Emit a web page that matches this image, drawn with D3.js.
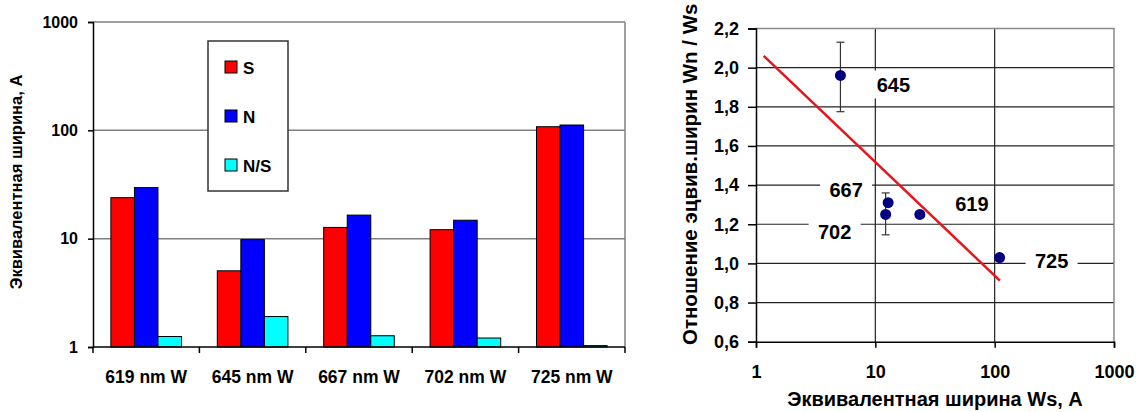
<!DOCTYPE html>
<html>
<head>
<meta charset="utf-8">
<script src="https://cdn.jsdelivr.net/npm/d3@7"></script>
<style>
  body { margin: 0; background: #fff; }
  svg { display: block; font-family: "Liberation Sans", Arial, sans-serif; }
</style>
</head>
<body>
<svg id="chart" width="1137" height="412"></svg>
<script>
// ---- left chart data ----
const categories = ["619 nm W", "645 nm W", "667 nm W", "702 nm W", "725 nm W"];
const seriesNames = ["S", "N", "N/S"];
const sValues = [23.9, 5.05, 12.7, 12.1, 108];
const nValues = [29.6, 9.8, 16.5, 14.8, 112];
const nsValues = [1.25, 1.91, 1.27, 1.21, 1.03];
const leftTicks = [1, 10, 100, 1000];

// ---- right chart data ----
const lineIds = ["645", "667", "702", "619", "725"];
const wsValues = [5.1, 12.8, 12.2, 23.6, 110];
const ratioValues = [1.96, 1.31, 1.25, 1.25, 1.03];
const errLow = [1.775, null, 1.146, null, null];
const errHigh = [2.13, null, 1.36, null, null];
const trendWs = [1.16, 110.6];
const trendRatio = [2.06, 0.912];
const rightYTicks = [0.6, 0.8, 1.0, 1.2, 1.4, 1.6, 1.8, 2.0, 2.2];
const rightXTicks = [1, 10, 100, 1000];

const colors = { "S": "#ff0000", "N": "#0000ff", "N/S": "#00ffff" };
const svg = d3.select("#chart");

// ================= LEFT: bar chart =================
const L = { left: 93, right: 625, top: 22, bottom: 347 };
const y = d3.scaleLog().domain([1, 1000]).range([L.bottom, L.top]);
const x0 = d3.scaleBand().domain(categories).range([L.left, L.right]);
const x1 = d3.scaleBand().domain(seriesNames).range([0, x0.bandwidth()])
    .paddingInner(0).paddingOuter(0.76);

const left = svg.append("g");

// gridlines
left.append("g").selectAll("line")
  .data(leftTicks.slice(1))
  .join("line")
  .attr("x1", L.left).attr("x2", L.right)
  .attr("y1", d => y(d)).attr("y2", d => y(d))
  .attr("stroke", "#808080").attr("stroke-width", 1.5);
left.append("line")
  .attr("x1", L.right).attr("x2", L.right).attr("y1", L.top).attr("y2", L.bottom)
  .attr("stroke", "#808080").attr("stroke-width", 1.5);

// bars
const rows = categories.map((c, i) => ({ cat: c, vals: [sValues[i], nValues[i], nsValues[i]] }));
left.append("g").selectAll("g")
  .data(rows)
  .join("g")
  .attr("transform", d => "translate(" + x0(d.cat) + ",0)")
  .selectAll("rect")
  .data(d => d.vals.map((v, k) => ({ key: seriesNames[k], v: v })))
  .join("rect")
  .attr("x", d => x1(d.key))
  .attr("width", x1.bandwidth())
  .attr("y", d => y(d.v))
  .attr("height", d => y(1) - y(d.v))
  .attr("fill", d => colors[d.key])
  .attr("stroke", "#000").attr("stroke-width", 1);

// y axis
const yAxisL = left.append("g")
  .attr("transform", "translate(" + L.left + ",0)")
  .call(d3.axisLeft(y).tickValues(leftTicks).tickFormat(d3.format("d")).tickSize(5).tickPadding(10));
yAxisL.select(".domain").attr("stroke", "#000").attr("stroke-width", 1.5);
yAxisL.selectAll(".tick line").attr("stroke", "#000").attr("stroke-width", 1.5);
yAxisL.selectAll("text").attr("font-size", 16).attr("font-weight", "bold").attr("fill", "#000");

// x axis (ticks at band edges)
const xAxisL = left.append("g").attr("transform", "translate(0," + L.bottom + ")");
xAxisL.append("line").attr("x1", L.left).attr("x2", L.right)
  .attr("stroke", "#000").attr("stroke-width", 1.5);
xAxisL.selectAll(".edge")
  .data(categories.concat([null]))
  .join("line")
  .attr("x1", (d, i) => L.left + i * x0.step())
  .attr("x2", (d, i) => L.left + i * x0.step())
  .attr("y1", 0).attr("y2", 6)
  .attr("stroke", "#000").attr("stroke-width", 1.5);
xAxisL.selectAll("text")
  .data(categories)
  .join("text")
  .attr("x", d => x0(d) + x0.bandwidth() / 2)
  .attr("y", 36)
  .attr("text-anchor", "middle")
  .attr("font-size", 17.5).attr("font-weight", "bold")
  .text(d => d);

// y title
left.append("text")
  .attr("transform", "translate(22,182) rotate(-90)")
  .attr("text-anchor", "middle")
  .attr("font-size", 16.5).attr("font-weight", "bold")
  .text("Эквивалентная ширина, А");

// legend
const lg = left.append("g").attr("transform", "translate(208,41)");
lg.append("rect").attr("width", 80).attr("height", 150)
  .attr("fill", "#fff").attr("stroke", "#333").attr("stroke-width", 1.5);
const lgItem = lg.selectAll(".item")
  .data(seriesNames)
  .join("g")
  .attr("transform", (d, i) => "translate(17," + (26 + i * 49) + ")");
lgItem.append("rect").attr("x", 0).attr("y", -6).attr("width", 12).attr("height", 12)
  .attr("fill", d => colors[d]).attr("stroke", "#000");
lgItem.append("text").attr("x", 18).attr("y", 6.5)
  .attr("font-size", 17).attr("font-weight", "bold").text(d => d);

// ================= RIGHT: scatter =================
const R = { left: 756, right: 1114, top: 28.5, bottom: 341.7 };
const xr = d3.scaleLog().domain([1, 1000]).range([R.left, R.right]);
const yr = d3.scaleLinear().domain([0.6, 2.2]).range([R.bottom, R.top]);

const right = svg.append("g");

// gridlines
right.append("g").selectAll("line")
  .data(rightYTicks.slice(1, -1))
  .join("line")
  .attr("x1", R.left).attr("x2", R.right)
  .attr("y1", d => yr(d)).attr("y2", d => yr(d))
  .attr("stroke", "#222").attr("stroke-width", 1.2);
right.append("g").selectAll("line")
  .data(rightXTicks.slice(1, -1))
  .join("line")
  .attr("x1", d => xr(d)).attr("x2", d => xr(d))
  .attr("y1", R.top).attr("y2", R.bottom)
  .attr("stroke", "#222").attr("stroke-width", 1.2);
right.append("path")
  .attr("d", "M" + R.left + "," + R.top + "H" + R.right + "V" + R.bottom)
  .attr("fill", "none").attr("stroke", "#888").attr("stroke-width", 1.5);

// axes
const yAxisR = right.append("g")
  .attr("transform", "translate(" + R.left + ",0)")
  .call(d3.axisLeft(yr).tickValues(rightYTicks)
    .tickFormat(d => d3.format(".1f")(d).replace(".", ",")).tickSize(8).tickPadding(9));
const xAxisR = right.append("g")
  .attr("transform", "translate(0," + R.bottom + ")")
  .call(d3.axisBottom(xr).tickValues(rightXTicks).tickFormat(d3.format("d")).tickSize(6).tickPadding(18));
[yAxisR, xAxisR].forEach(a => {
  a.select(".domain").attr("stroke", "#000").attr("stroke-width", 1.5);
  a.selectAll(".tick line").attr("stroke", "#000").attr("stroke-width", 1.5);
  a.selectAll("text").attr("font-size", 18).attr("font-weight", "bold").attr("fill", "#000");
});

// trend line
right.append("path")
  .datum(trendWs.map((w, i) => [w, trendRatio[i]]))
  .attr("d", d3.line().x(d => xr(d[0])).y(d => yr(d[1])))
  .attr("stroke", "#e8141b").attr("stroke-width", 2.5).attr("fill", "none");

// points
const pts = lineIds.map((id, i) => ({
  id: id, ws: wsValues[i], r: ratioValues[i], lo: errLow[i], hi: errHigh[i]
}));
const eb = right.append("g").selectAll("g")
  .data(pts.filter(d => d.lo !== null))
  .join("g").attr("stroke", "#333").attr("stroke-width", 1.2);
eb.append("line").attr("x1", d => xr(d.ws)).attr("x2", d => xr(d.ws))
  .attr("y1", d => yr(d.lo)).attr("y2", d => yr(d.hi));
eb.append("line").attr("x1", d => xr(d.ws) - 4).attr("x2", d => xr(d.ws) + 4)
  .attr("y1", d => yr(d.lo)).attr("y2", d => yr(d.lo));
eb.append("line").attr("x1", d => xr(d.ws) - 4).attr("x2", d => xr(d.ws) + 4)
  .attr("y1", d => yr(d.hi)).attr("y2", d => yr(d.hi));

right.append("g").selectAll("circle")
  .data(pts)
  .join("circle")
  .attr("cx", d => xr(d.ws)).attr("cy", d => yr(d.r))
  .attr("r", 5.5).attr("fill", "#000080");

// point labels
const labelOffset = { "645": [53, 9], "667": [-42, -13], "702": [-51, 17], "619": [52, -11], "725": [52, 3] };
const lab = right.append("g").selectAll("g")
  .data(pts)
  .join("g")
  .attr("transform", d => "translate(" + (xr(d.ws) + labelOffset[d.id][0]) + "," + (yr(d.r) + labelOffset[d.id][1]) + ")");
lab.append("rect").attr("x", -26).attr("y", -14).attr("width", 52).attr("height", 28)
  .attr("fill", "#fff")
  .attr("display", d => d.id === "619" ? "none" : null);
lab.append("text")
  .attr("text-anchor", "middle").attr("dy", "0.36em")
  .attr("font-size", 20).attr("font-weight", "bold")
  .text(d => d.id);

// titles
right.append("text")
  .attr("transform", "translate(697,345) rotate(-90)")
  .attr("font-size", 20.5).attr("font-weight", "bold")
  .text("Отношение эцвив.ширин Wn / Ws");
right.append("text")
  .attr("x", 935).attr("y", 406)
  .attr("text-anchor", "middle")
  .attr("font-size", 20).attr("font-weight", "bold")
  .text("Эквивалентная ширина Ws, А");
</script>
</body>
</html>
